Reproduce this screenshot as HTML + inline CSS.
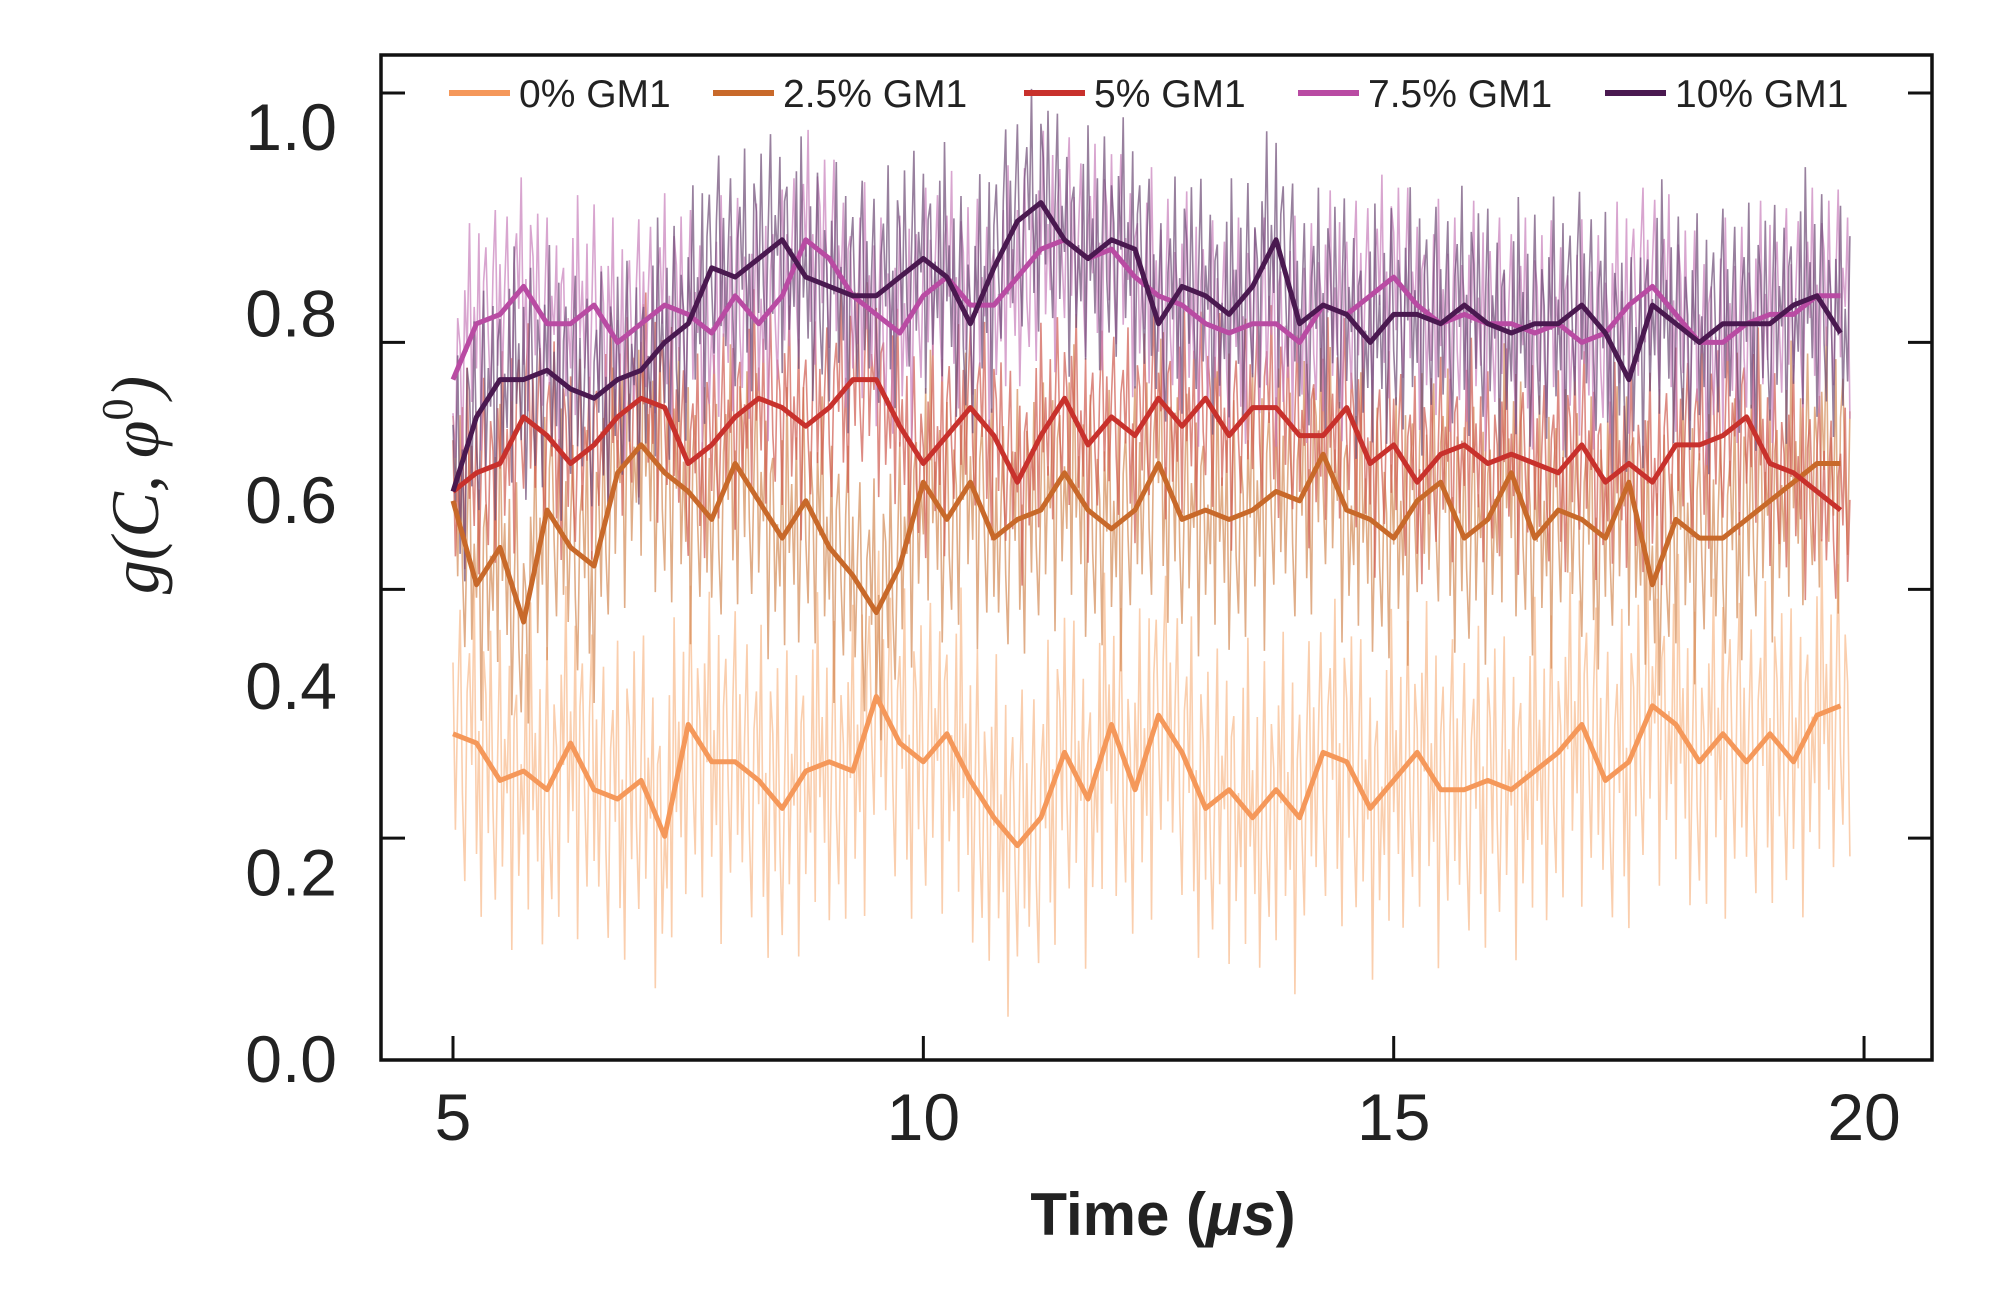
<!DOCTYPE html>
<html><head><meta charset="utf-8"><style>
html,body{margin:0;padding:0;background:#fff;}
svg{display:block;font-family:"Liberation Sans",Arial,sans-serif;}
</style></head><body>
<svg id="chart" width="2000" height="1315" viewBox="0 0 2000 1315">
<rect width="2000" height="1315" fill="#fff"/>
<g id="raw"></g>
<g id="smooth"></g>
<rect x="381" y="55" width="1551" height="1005" fill="none" stroke="#111" stroke-width="3.5"/>
<g id="ticks"></g>
<g id="legend"></g>
<text x="1163" y="1235" font-size="60" font-weight="bold" text-anchor="middle" fill="#222">Time (<tspan font-style="italic">μs</tspan>)</text>
<text transform="translate(158,485) rotate(-90)" font-size="68" text-anchor="middle" fill="#222" font-family="'Liberation Serif',serif" font-style="italic">g(C, φ<tspan font-size="44" dy="-26" font-style="normal">0</tspan><tspan dy="26">)</tspan></text>
</svg>
<script>
const times=[5,5.25,5.5,5.75,6,6.25,6.5,6.75,7,7.25,7.5,7.75,8,8.25,8.5,8.75,9,9.25,9.5,9.75,10,10.25,10.5,10.75,11,11.25,11.5,11.75,12,12.25,12.5,12.75,13,13.25,13.5,13.75,14,14.25,14.5,14.75,15,15.25,15.5,15.75,16,16.25,16.5,16.75,17,17.25,17.5,17.75,18,18.25,18.5,18.75,19,19.25,19.5,19.75];
const s0=[0.35,0.34,0.30,0.31,0.29,0.34,0.29,0.28,0.30,0.24,0.36,0.32,0.32,0.30,0.27,0.31,0.32,0.31,0.39,0.34,0.32,0.35,0.30,0.26,0.23,0.26,0.33,0.28,0.36,0.29,0.37,0.33,0.27,0.29,0.26,0.29,0.26,0.33,0.32,0.27,0.30,0.33,0.29,0.29,0.30,0.29,0.31,0.33,0.36,0.30,0.32,0.38,0.36,0.32,0.35,0.32,0.35,0.32,0.37,0.38];
const s25=[0.60,0.51,0.55,0.47,0.59,0.55,0.53,0.63,0.66,0.63,0.61,0.58,0.64,0.60,0.56,0.60,0.55,0.52,0.48,0.53,0.62,0.58,0.62,0.56,0.58,0.59,0.63,0.59,0.57,0.59,0.64,0.58,0.59,0.58,0.59,0.61,0.60,0.65,0.59,0.58,0.56,0.60,0.62,0.56,0.58,0.63,0.56,0.59,0.58,0.56,0.62,0.51,0.58,0.56,0.56,0.58,0.60,0.62,0.64,0.64];
const s5=[0.61,0.63,0.64,0.69,0.67,0.64,0.66,0.69,0.71,0.70,0.64,0.66,0.69,0.71,0.70,0.68,0.70,0.73,0.73,0.68,0.64,0.67,0.70,0.67,0.62,0.67,0.71,0.66,0.69,0.67,0.71,0.68,0.71,0.67,0.70,0.70,0.67,0.67,0.70,0.64,0.66,0.62,0.65,0.66,0.64,0.65,0.64,0.63,0.66,0.62,0.64,0.62,0.66,0.66,0.67,0.69,0.64,0.63,0.61,0.59];
const s75=[0.73,0.79,0.80,0.83,0.79,0.79,0.81,0.77,0.79,0.81,0.80,0.78,0.82,0.79,0.82,0.88,0.86,0.82,0.80,0.78,0.82,0.84,0.81,0.81,0.84,0.87,0.88,0.86,0.87,0.84,0.82,0.81,0.79,0.78,0.79,0.79,0.77,0.81,0.80,0.82,0.84,0.81,0.79,0.80,0.79,0.79,0.78,0.79,0.77,0.78,0.81,0.83,0.80,0.77,0.77,0.79,0.80,0.80,0.82,0.82];
const s10=[0.61,0.69,0.73,0.73,0.74,0.72,0.71,0.73,0.74,0.77,0.79,0.85,0.84,0.86,0.88,0.84,0.83,0.82,0.82,0.84,0.86,0.84,0.79,0.85,0.90,0.92,0.88,0.86,0.88,0.87,0.79,0.83,0.82,0.80,0.83,0.88,0.79,0.81,0.80,0.77,0.80,0.80,0.79,0.81,0.79,0.78,0.79,0.79,0.81,0.78,0.73,0.81,0.79,0.77,0.79,0.79,0.79,0.81,0.82,0.78];
const jitter=[0.9,-1.2,0.4,1.6,-0.7,-1.8,0.6,1.1,-0.3,2.0,-1.4,0.2,-2.1,1.3,0.8,-0.9,1.7,-0.5,-1.6,0.3,1.9,-1.1,0.5,-0.2,1.4,-2.2,0.7,1.0,-1.3,0.1,-0.8,1.5,-1.7,2.2,-0.4,0.6,-1.0,1.2,-2.0,0.0,1.8,-0.6,-1.5,0.9,0.3,-1.9,1.1,-0.1,2.1,-1.2,0.4,-0.8,1.6,-2.3,0.7,1.3,-0.3,-1.4,0.8,1.9,-0.9];
const series=[
 {name:"0% GM1",vals:s0,color:"#f5985a",raw:"#f8b98a",amp:0.085,off:0},
 {name:"2.5% GM1",vals:s25,color:"#c8692a",raw:"#d38a55",amp:0.07,off:13},
 {name:"5% GM1",vals:s5,color:"#c8312c",raw:"#cf5a4f",amp:0.055,off:27},
 {name:"7.5% GM1",vals:s75,color:"#b94ba3",raw:"#c77fbb",amp:0.06,off:41},
 {name:"10% GM1",vals:s10,color:"#4a1950",raw:"#6c4a75",amp:0.065,off:7}
];
const xTicks=[5,10,15,20];
const yLabels=[0.0,0.2,0.4,0.6,0.8,1.0];
const yTickMarks=[1.0375,0.770,0.505,0.238];
const X=t=>453+(t-5)*94.07;
const Y=v=>1060-v*932;
const NS="http://www.w3.org/2000/svg";
function mk(tag,attrs,parent){const e=document.createElementNS(NS,tag);for(const k in attrs)e.setAttribute(k,attrs[k]);parent.appendChild(e);return e;}
function interp(vals,t){const i=Math.min(vals.length-2,Math.floor((t-5)/0.25));const f=(t-times[i])/0.25;return vals[i]*(1-f)+vals[i+1]*f;}
const rawG=document.getElementById('raw'),smG=document.getElementById('smooth');
series.forEach((s,si)=>{
 let d="";let k=0;
 for(let t=5;t<=19.86;t+=0.025,k++){
  const v=interp(s.vals,Math.min(t,19.75))+jitter[(k+s.off)%jitter.length]*s.amp;
  d+=(k?"L":"M")+X(t).toFixed(1)+","+Y(v).toFixed(1);
 }
 const p=mk('path',{d:d,fill:"none",stroke:s.raw,"stroke-width":1.6,"stroke-opacity":0.7},rawG);
 
 
});
series.forEach((s,si)=>{
 let d="";
 s.vals.forEach((v,i)=>{d+=(i?"L":"M")+X(times[i]).toFixed(1)+","+Y(v).toFixed(1);});
 const p=mk('path',{d:d,fill:"none",stroke:s.color,"stroke-width":5,"stroke-linejoin":"round"},smG);
 
 
});
const tg=document.getElementById('ticks');
xTicks.forEach(t=>{
 const l=mk('line',{x1:X(t),x2:X(t),y1:1060,y2:1036,stroke:"#111","stroke-width":3},tg);
 
 
 const tx=mk('text',{x:X(t),y:1140,"font-size":66,"text-anchor":"middle",fill:"#222"},tg);
 tx.textContent=t;
 
 
});
yLabels.forEach(v=>{
 const tx=mk('text',{x:337,y:Y(v)+22,"font-size":66,"text-anchor":"end",fill:"#222"},tg);
 tx.textContent=v.toFixed(1);
 
 
});
yTickMarks.forEach((v,i)=>{
 const y=Y(v);
 const a=mk('line',{x1:381,x2:405,y1:y,y2:y,stroke:"#111","stroke-width":3},tg);
 
 
 const b=mk('line',{x1:1908,x2:1932,y1:y,y2:y,stroke:"#111","stroke-width":3},tg);
 
 
});
const lg=document.getElementById('legend');
const lx=[449,713,1024,1298,1605];
series.forEach((s,i)=>{
 const g=mk('g',{},lg);
 
 
 mk('line',{x1:lx[i],x2:lx[i]+61,y1:93,y2:93,stroke:s.color,"stroke-width":6},g);
 const tx=mk('text',{x:lx[i]+70,y:107,"font-size":39,fill:"#222"},g);
 tx.textContent=s.name;
});
</script>
</body></html>
